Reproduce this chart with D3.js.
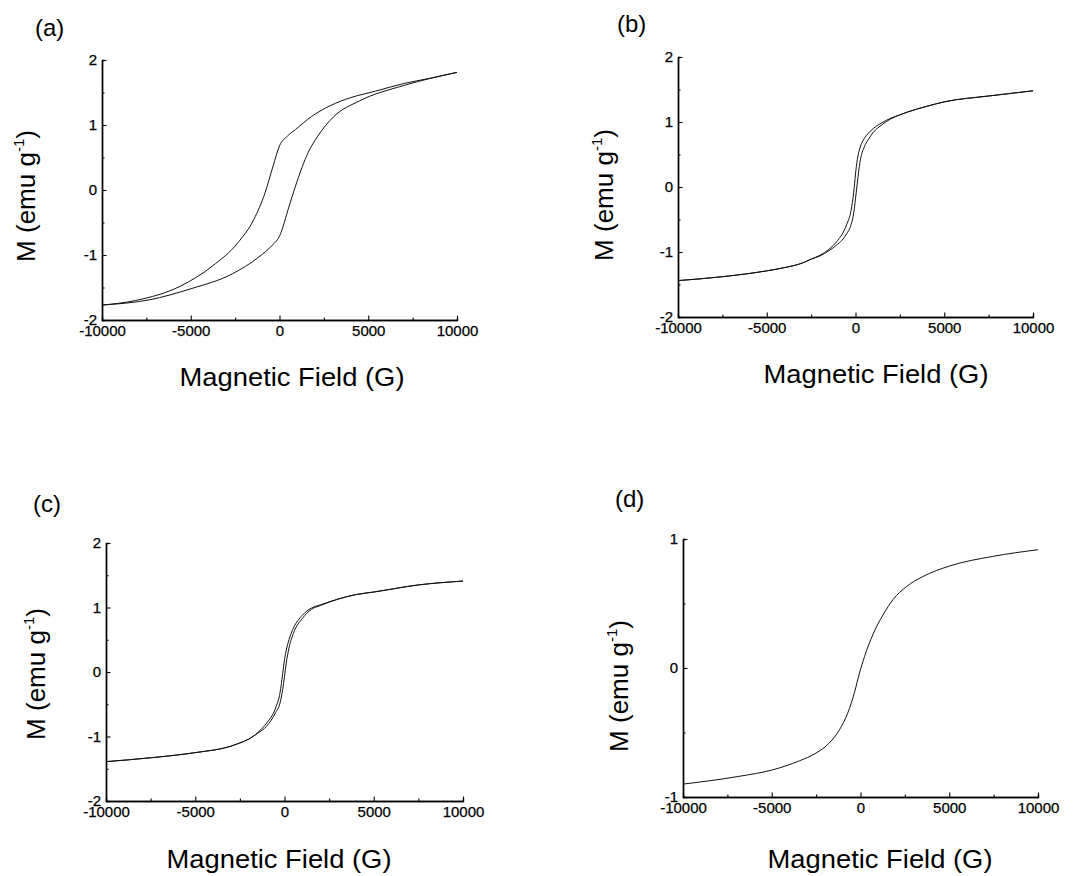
<!DOCTYPE html>
<html>
<head>
<meta charset="utf-8">
<script src="https://cdn.jsdelivr.net/npm/d3@7"></script>
<style>
    body { margin: 0; background: #fff; }
    svg { display: block; }
    text { font-family: "Liberation Sans", Arial, sans-serif; fill: #000; }
</style>
</head>
<body>
<svg id="chart" width="1077" height="876"></svg>
<script>
// magnetic field ticks (G), shared by all four panels
var fieldMajorTicks = [-10000, -5000, 0, 5000, 10000];
var fieldMinorTicks = [-7500, -2500, 2500, 7500];

// (a) descending and ascending branches of the loop
var fieldUpperA = [-10000, -8110, -5590, -3780, -2340, -1440, -810, -360, 0, 450, 900, 1800, 2880, 4000, 5400, 7030, 8500, 10000];
var momentUpperA = [-1.77, -1.70, -1.48, -1.17, -0.81, -0.45, -0.04, 0.37, 0.68, 0.83, 0.93, 1.13, 1.30, 1.42, 1.52, 1.64, 1.72, 1.81];
var fieldLowerA = [-10000, -7340, -5000, -2660, -1160, -410, 0, 540, 900, 1620, 2160, 3060, 4500, 7030, 10000];
var momentLowerA = [-1.77, -1.69, -1.52, -1.29, -1.03, -0.85, -0.71, -0.25, 0.06, 0.58, 0.83, 1.13, 1.37, 1.61, 1.81];

// (b)
var fieldB = [-10000, -7500, -5000, -4000, -3000, -2500, -2000, -1500, -1000, -700, -500, -250, -100, 0, 100, 250, 500, 700, 1000, 1500, 2000, 2500, 3000, 4000, 5000, 7500, 10000];
var momentUpperB = [-1.44, -1.38, -1.29, -1.24, -1.17, -1.11, -1.05, -0.96, -0.82, -0.70, -0.58, -0.36, -0.08, 0.20, 0.42, 0.60, 0.75, 0.82, 0.90, 0.99, 1.06, 1.11, 1.16, 1.24, 1.31, 1.40, 1.48];
var momentLowerB = [-1.44, -1.38, -1.29, -1.24, -1.17, -1.11, -1.06, -0.98, -0.88, -0.80, -0.72, -0.58, -0.40, -0.18, 0.06, 0.38, 0.62, 0.72, 0.84, 0.96, 1.05, 1.11, 1.16, 1.24, 1.31, 1.40, 1.48];

// (c)
var fieldC = [-10000, -7500, -5000, -3000, -2500, -2000, -1500, -1000, -500, -250, -100, 0, 100, 250, 500, 1000, 1500, 2000, 3000, 4000, 5000, 7500, 10000];
var momentUpperC = [-1.39, -1.33, -1.25, -1.15, -1.10, -1.04, -0.94, -0.79, -0.56, -0.32, -0.02, 0.19, 0.34, 0.50, 0.68, 0.88, 0.99, 1.04, 1.13, 1.20, 1.24, 1.35, 1.41];
var momentLowerC = [-1.39, -1.33, -1.25, -1.15, -1.10, -1.04, -0.95, -0.84, -0.63, -0.48, -0.27, -0.07, 0.14, 0.37, 0.60, 0.83, 0.97, 1.03, 1.13, 1.20, 1.24, 1.35, 1.41];

// (d) closed curve, one branch
var fieldD = [-10000, -6850, -4960, -3450, -2510, -1750, -1190, -720, -340, -60, 230, 700, 1260, 1830, 2580, 3530, 5000, 7490, 10000];
var momentD = [-0.90, -0.84, -0.79, -0.72, -0.66, -0.58, -0.48, -0.35, -0.19, -0.04, 0.09, 0.26, 0.41, 0.53, 0.63, 0.71, 0.79, 0.866, 0.917];

var panels = [
    {
        tag: '(a)', tagX: 35, tagY: 36,
        left: 102, right: 457, top: 60, bottom: 320,
        yMajor: [-2, -1, 0, 1, 2], yMinor: [-1.5, -0.5, 0.5, 1.5], yDomain: [-2, 2],
        branches: [[fieldUpperA, momentUpperA], [fieldLowerA, momentLowerA]],
        xTitleX: 292, xTitleY: 386, yTitleX: 35, yTitleY: 196
    },
    {
        tag: '(b)', tagX: 617, tagY: 32,
        left: 678, right: 1033, top: 57, bottom: 317,
        yMajor: [-2, -1, 0, 1, 2], yMinor: [-1.5, -0.5, 0.5, 1.5], yDomain: [-2, 2],
        branches: [[fieldB, momentUpperB], [fieldB, momentLowerB]],
        xTitleX: 876, xTitleY: 383, yTitleX: 613, yTitleY: 195
    },
    {
        tag: '(c)', tagX: 33, tagY: 512,
        left: 106, right: 463, top: 543, bottom: 801,
        yMajor: [-2, -1, 0, 1, 2], yMinor: [-1.5, -0.5, 0.5, 1.5], yDomain: [-2, 2],
        branches: [[fieldC, momentUpperC], [fieldC, momentLowerC]],
        xTitleX: 279, xTitleY: 868, yTitleX: 45, yTitleY: 674
    },
    {
        tag: '(d)', tagX: 615, tagY: 507,
        left: 683, right: 1038, top: 539, bottom: 797,
        yMajor: [-1, 0, 1], yMinor: [-0.5, 0.5], yDomain: [-1, 1],
        branches: [[fieldD, momentD]],
        xTitleX: 880, xTitleY: 868, yTitleX: 628, yTitleY: 686
    }
];

var svg = d3.select('#chart');

panels.forEach(function (p) {
    drawPanel(svg, p);
});

function drawPanel(svg, p) {
    var g = svg.append('g'),
        x = d3.scaleLinear().domain([-10000, 10000]).range([p.left, p.right]),
        y = d3.scaleLinear().domain(p.yDomain).range([p.bottom, p.top]),
        plain = function (d) { return String(d); };

    var line = d3.line()
        .x(function (d) { return x(d[0]); })
        .y(function (d) { return y(d[1]); })
        .curve(d3.curveMonotoneX);

    p.branches.forEach(function (b) {
        var pts = b[0].map(function (h, i) { return [h, b[1][i]]; });
        g.append('path')
            .datum(pts)
            .attr('d', line)
            .attr('fill', 'none')
            .attr('stroke', '#111')
            .attr('stroke-width', 1);
    });

    // inward ticks, as in the original
    g.append('g')
        .attr('transform', 'translate(0,' + p.bottom + ')')
        .call(d3.axisBottom(x).tickValues(fieldMinorTicks).tickSize(-2.5).tickFormat(''));
    g.append('g')
        .attr('transform', 'translate(0,' + p.bottom + ')')
        .call(d3.axisBottom(x).tickValues(fieldMajorTicks).tickSizeInner(-4.5).tickSizeOuter(0).tickPadding(5).tickFormat(plain));
    g.append('g')
        .attr('transform', 'translate(' + p.left + ',0)')
        .call(d3.axisLeft(y).tickValues(p.yMinor).tickSize(-2.5).tickFormat(''));
    g.append('g')
        .attr('transform', 'translate(' + p.left + ',0)')
        .call(d3.axisLeft(y).tickValues(p.yMajor).tickSizeInner(-4.5).tickSizeOuter(0).tickPadding(5).tickFormat(plain));

    g.selectAll('.domain').attr('stroke', '#000').attr('stroke-width', 1.4);
    g.selectAll('.tick line').attr('stroke', '#000').attr('stroke-width', 1.1);
    g.selectAll('.tick text')
        .style('font-size', '15px')
        .attr('fill', '#000')
        .attr('stroke', '#000')
        .attr('stroke-width', 0.25);

    g.append('text')
        .attr('x', p.tagX)
        .attr('y', p.tagY)
        .style('font-size', '24px')
        .text(p.tag);

    g.append('text')
        .attr('x', p.xTitleX)
        .attr('y', p.xTitleY)
        .attr('text-anchor', 'middle')
        .attr('textLength', 225)
        .attr('lengthAdjust', 'spacingAndGlyphs')
        .style('font-size', '26px')
        .text('Magnetic Field (G)');

    var yTitle = g.append('text')
        .attr('transform', 'translate(' + p.yTitleX + ',' + p.yTitleY + ') rotate(-90)')
        .attr('text-anchor', 'middle')
        .style('font-size', '26px');
    yTitle.append('tspan').text('M (emu g');
    yTitle.append('tspan').attr('dy', -11).style('font-size', '15px').text('-1');
    yTitle.append('tspan').attr('dy', 11).text(')');
}
</script>
</body>
</html>
